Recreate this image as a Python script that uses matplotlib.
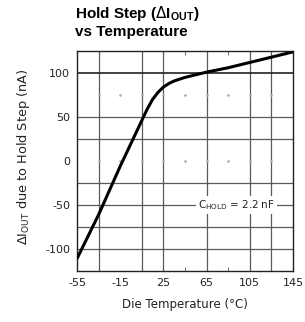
import matplotlib
matplotlib.use("Agg")
import matplotlib.pyplot as plt
import numpy as np

# Data
temp_c = [-55, -35, -15, 5, 10, 15, 20, 25, 30, 35, 45, 65, 85, 105, 125, 145]
hold_step_na = [-111, -61, -6, 46, 59, 70, 78, 84, 88, 91, 95, 101, 106, 112, 118, 124]
xticks = [-55, -15, 25, 65, 105, 145]
yticks = [-100, -50, 0, 50, 100]
vgrid = [-35, 5, 25, 65, 105, 125]
hgrid = [-100, -75, -50, -25, 25, 50]
xminor = [-15, 45, 85]

plt.rcParams['mathtext.fontset'] = 'custom'
plt.rcParams['mathtext.rm'] = 'DejaVu Sans'
plt.rcParams['mathtext.bf'] = 'Liberation Sans:bold'

fig = plt.figure(figsize=(3.05, 3.22), dpi=100)
ax = fig.add_axes([77/305, 1-271/322, 216/305, 220/322])

ax.set_xlim(-55, 145)
ax.set_ylim(-125, 125)

for v in vgrid:
    ax.axvline(v, color='#5a5a5a', lw=0.9, zorder=1)
for h in hgrid:
    ax.axhline(h, color='#5a5a5a', lw=0.9, zorder=1)
ax.axhline(100, color='#222222', lw=1.2, zorder=1)

# faint dots at minor intersections
gx = np.arange(-35, 145, 20)
for yv in [75, 0]:
    ax.plot(gx, [yv]*len(gx), ls='none', marker='s', ms=0.8, color='#aaaaaa', zorder=1)

ax.plot(temp_c, hold_step_na, color='black', lw=2.2, zorder=3, solid_capstyle='butt')

ax.text(93, -50, r'C$_{\mathrm{HOLD}}$ = 2.2 nF', ha='center', va='center', fontsize=7.5,
        color='#222222', bbox=dict(facecolor='white', edgecolor='none', pad=1.5), zorder=4)

ax.set_xticks(xticks)
ax.set_yticks(yticks)
ax.set_xticks(xminor, minor=True)
ax.tick_params(axis='both', which='major', length=0, pad=5, labelsize=8, colors='#222222')
ax.tick_params(axis='x', which='minor', direction='in', length=3, top=True, bottom=True, color='#555555')
ax.set_xticklabels([str(t) for t in xticks])
ax.set_yticklabels([str(t) for t in yticks])

for s in ax.spines.values():
    s.set_color('#222222')
    s.set_linewidth(1.0)

ax.set_xlabel('Die Temperature (°C)', fontsize=8.5, labelpad=7, color='#222222')
ax.set_ylabel(r'$\Delta$I$_{\mathrm{OUT}}$ due to Hold Step (nA)', fontsize=9.3, labelpad=7, color='#222222')
ax.yaxis.set_label_coords(-0.21, 0.52)

fig.text(75/305, 1-18/322, r'Hold Step ($\Delta$I$_{\mathbf{OUT}}$)', fontsize=11,
         fontweight='bold', family='Liberation Sans', ha='left', va='baseline')
fig.text(75/305, 1-36/322, 'vs Temperature', fontsize=11,
         fontweight='bold', family='Liberation Sans', ha='left', va='baseline')

fig.savefig('out.png', dpi=100)
